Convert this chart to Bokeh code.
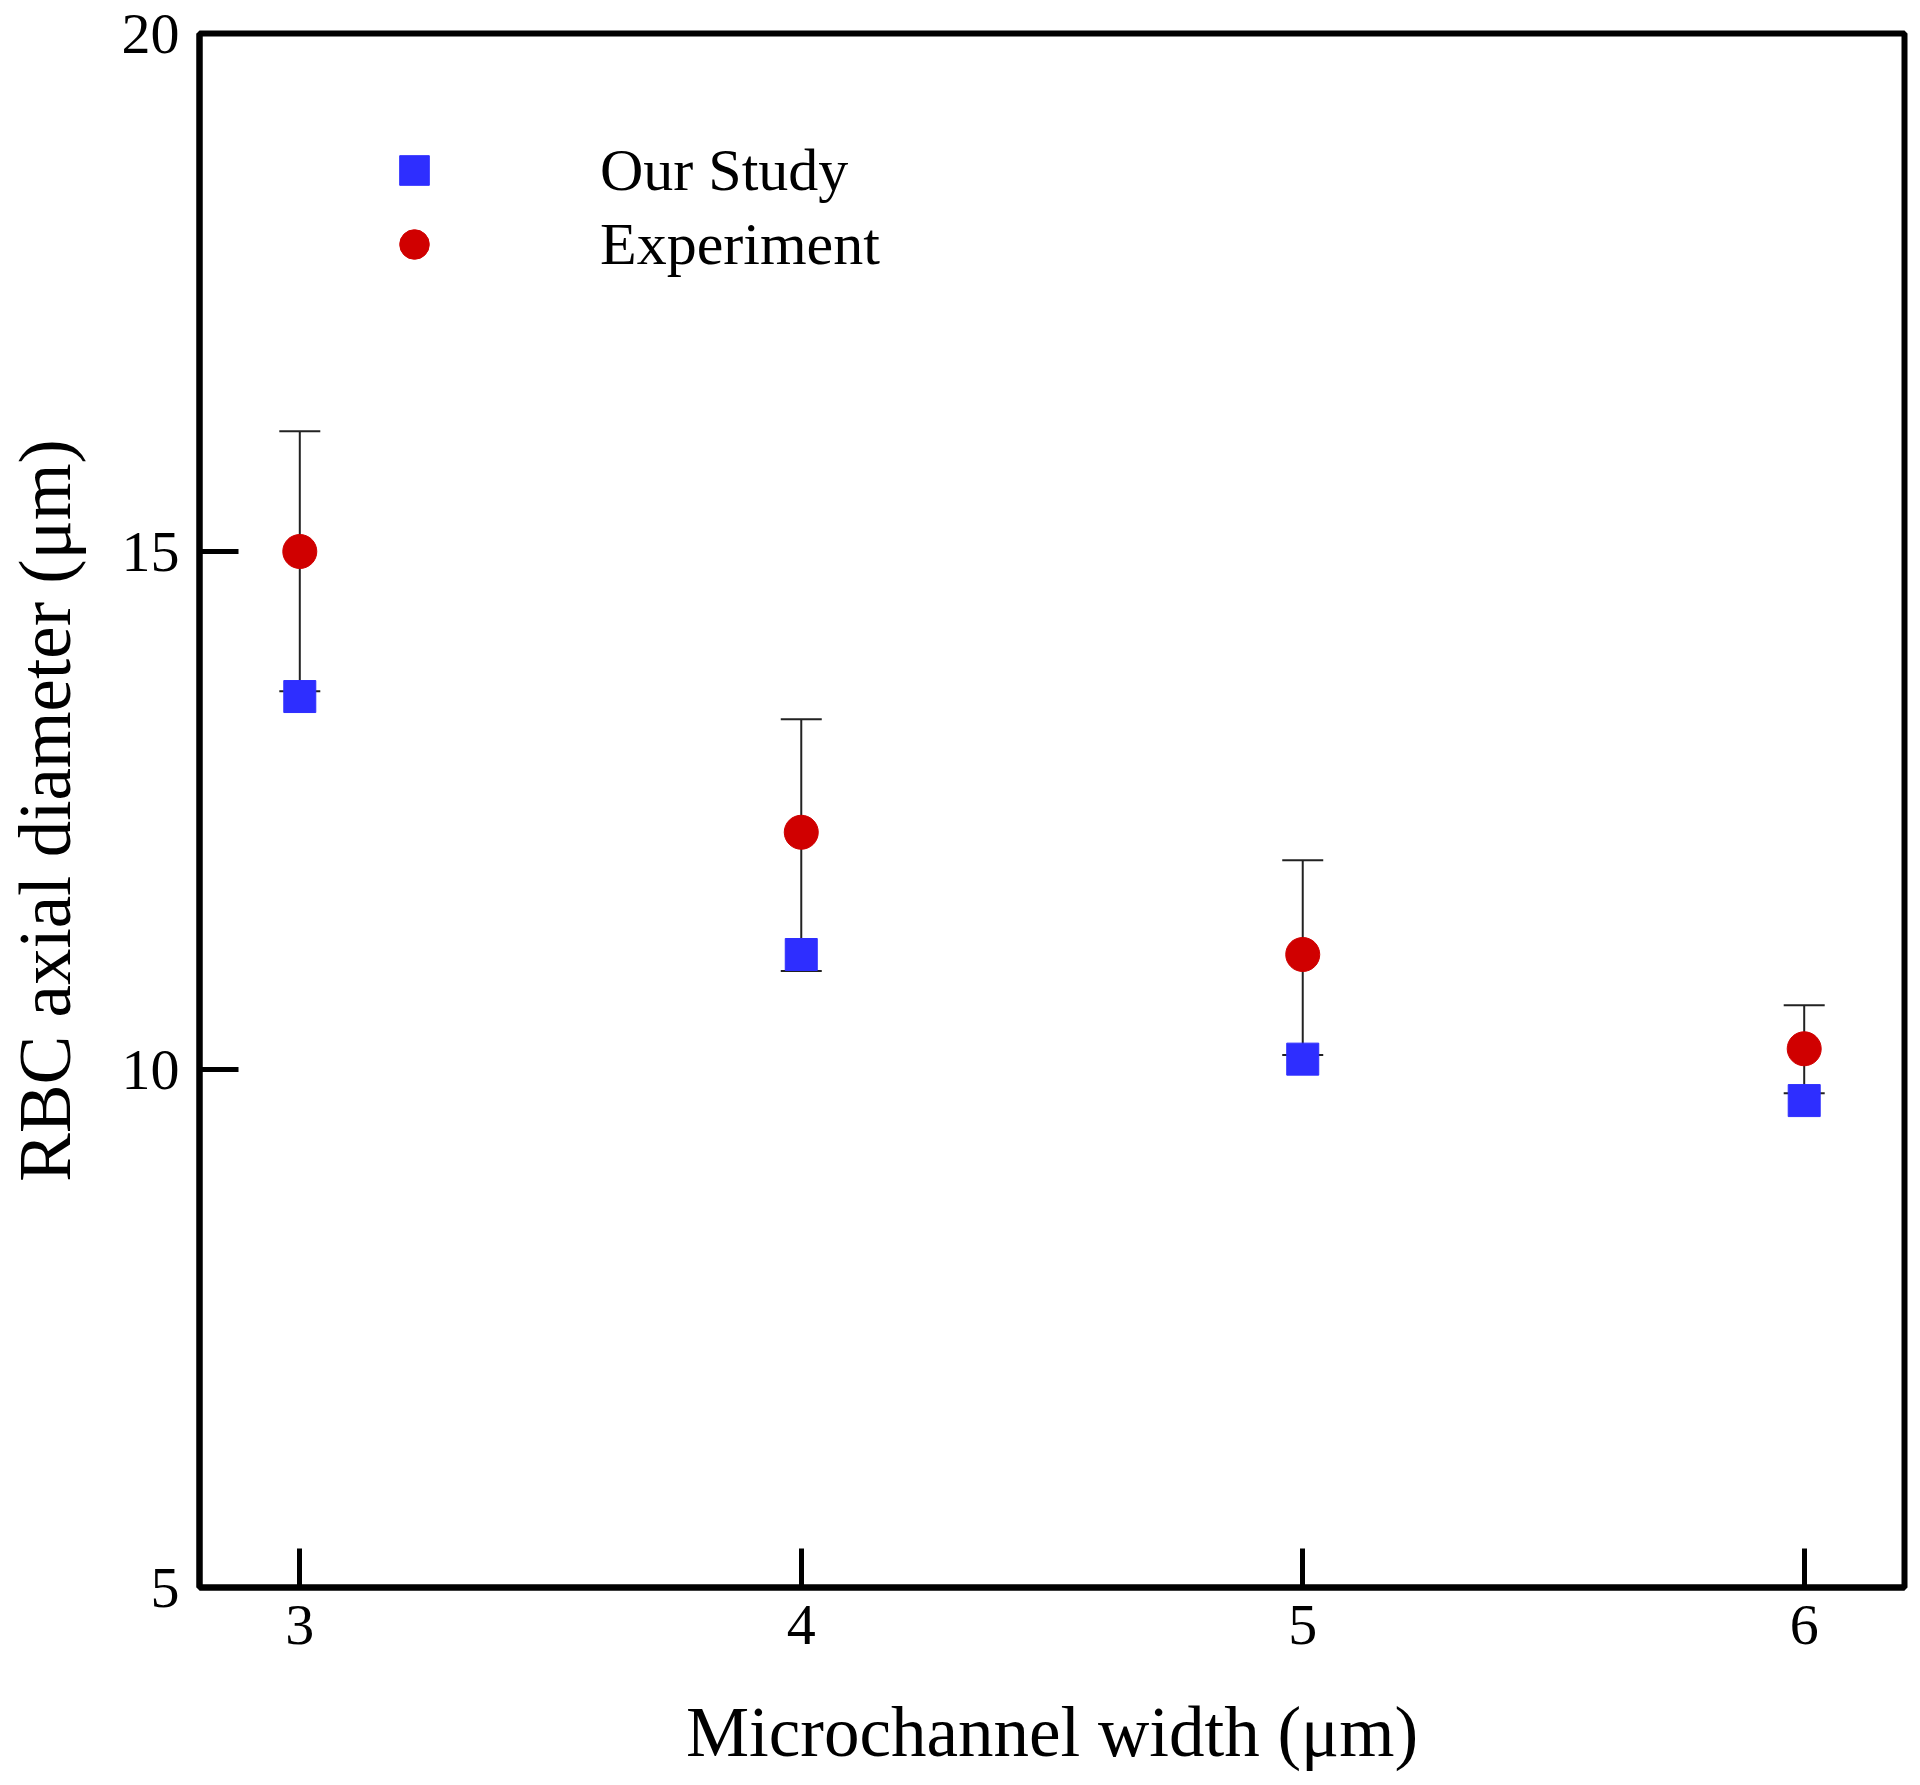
from bokeh.plotting import figure
from bokeh.models import (ColumnDataSource, Whisker, TeeHead, FixedTicker,
                          Legend, LegendItem, Range1d)
from bokeh.embed import file_html
from bokeh.resources import INLINE

# ---- data ----
widths = [3, 4, 5, 6]
our_study = [13.60, 11.11, 10.10, 9.70]
experiment = [15.00, 12.29, 11.11, 10.20]
exp_upper = [16.16, 13.38, 12.02, 10.62]
exp_lower = [13.65, 10.95, 10.14, 9.77]
x_ticks = [3, 4, 5, 6]
y_ticks = [5, 10, 15, 20]

FONT = "Liberation Serif"

p = figure(width=1912, height=1780, output_backend="svg", toolbar_location=None,
           x_range=Range1d(2.8, 6.2), y_range=Range1d(5, 20),
           min_border_left=199, min_border_top=33, min_border_right=8,
           min_border_bottom=193)

p.background_fill_color = "white"
p.border_fill_color = "white"
p.outline_line_color = "black"
p.outline_line_width = 6
p.xgrid.visible = False
p.ygrid.visible = False

for ax in (p.xaxis[0], p.yaxis[0]):
    ax.axis_line_width = 6
    ax.axis_line_color = "black"
    ax.major_tick_in = 39
    ax.major_tick_out = 0
    ax.major_tick_line_width = 5
    ax.major_tick_line_color = "black"
    ax.minor_tick_line_color = None
    ax.major_label_text_font = FONT
    ax.major_label_text_font_size = "58px"
    ax.major_label_text_color = "black"
    ax.axis_label_text_font = FONT
    ax.axis_label_text_font_style = "normal"
    ax.axis_label_text_color = "black"

p.xaxis.ticker = FixedTicker(ticks=x_ticks)
p.yaxis.ticker = FixedTicker(ticks=y_ticks)
p.xaxis.axis_label = "Microchannel width (μm)"
p.yaxis.axis_label = "RBC axial diameter (μm)"
p.xaxis.axis_label_text_font_size = "71px"
p.yaxis.axis_label_text_font_size = "73px"
p.xaxis.major_label_standoff = 18
p.xaxis.axis_label_standoff = 46
p.yaxis.major_label_standoff = 20
p.yaxis.axis_label_standoff = 33

src = ColumnDataSource(dict(x=widths, our=our_study, exp=experiment,
                            upper=exp_upper, lower=exp_lower))

r_our = p.scatter("x", "our", source=src, marker="square", size=32,
                  fill_color="#2e2eff", line_color="#2e2eff")
r_exp = p.scatter("x", "exp", source=src, marker="circle", size=34,
                  fill_color="#d00000", line_color="#d00000")

wh = Whisker(base="x", upper="upper", lower="lower", source=src,
             line_color="#222222", line_width=2,
             upper_head=TeeHead(size=41, line_color="#222222", line_width=2),
             lower_head=TeeHead(size=41, line_color="#222222", line_width=2))
p.add_layout(wh)

legend = Legend(items=[LegendItem(label="Our Study", renderers=[r_our]),
                       LegendItem(label="Experiment", renderers=[r_exp])],
                location=(175, 1306), orientation="vertical",
                glyph_width=80, glyph_height=74, label_height=74,
                spacing=0, padding=0, margin=0, label_standoff=146,
                label_text_font=FONT, label_text_font_size="60px",
                label_text_color="black", border_line_color=None,
                background_fill_alpha=0)
p.add_layout(legend)

open("out.html", "w").write(file_html(p, INLINE))
